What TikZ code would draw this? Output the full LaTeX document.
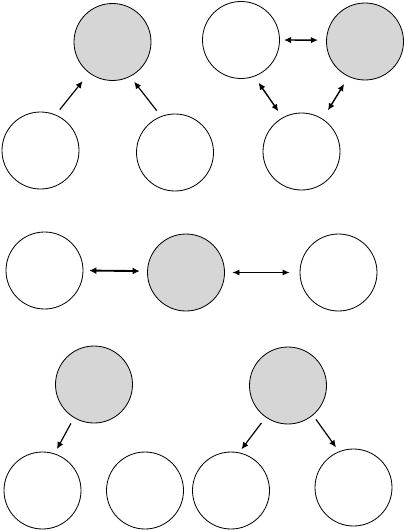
\documentclass[tikz,border=0pt]{standalone}
\usepackage{xcolor}
\definecolor{hubgray}{RGB}{214,214,214}
\usetikzlibrary{arrows.meta, shapes.geometric, positioning}
\tikzset{
  vnode/.style={
    circle, draw=black, fill=white, line width=0.7pt,
    minimum size=2.31cm, inner sep=0pt},
  hnode/.style={vnode, fill=hubgray},
  arr/.style={-{Latex[length=6pt,width=5.5pt]}, line width=1pt},
  arrboth/.style={{Latex[length=6pt,width=5.5pt]}-{Latex[length=6pt,width=5.5pt]}, line width=1.2pt},
  arrbold/.style={{Latex[length=6pt,width=6pt]}-{Latex[length=6pt,width=6pt]}, line width=1.6pt},
  arrthin/.style={{Latex[length=6pt,width=5pt]}-{Latex[length=6pt,width=5pt]}, line width=0.7pt},
}

\begin{document}
\begin{tikzpicture}[x=0.03cm, y=-0.03cm]
  \useasboundingbox (0,0) rectangle (405,531);
  % converging pair
  \node[hnode] (ahub)   at (112.5,42)   {};
  \node[vnode] (aleft)  at (40.5,150.5) {};
  \node[vnode] (aright) at (175,152.5)  {};
  % triangle
  \node[vnode] (bleft)  at (241,40)     {};
  \node[hnode] (bhub)   at (365,41.5)   {};
  \node[vnode] (bbot)   at (301.5,151.5){};
  % chain
  \node[vnode] (cleft)  at (44.5,270.5) {};
  \node[hnode] (chub)   at (186,272.5)  {};
  \node[vnode] (cright) at (338.5,272.5){};
  % single fork
  \node[hnode] (dhub)   at (94,384.5)   {};
  \node[vnode] (dleft)  at (42.5,490.5) {};
  \node[vnode] (dmid)   at (145,490.5)  {};
  % double fork
  \node[hnode] (ehub)   at (288,385.5)  {};
  \node[vnode] (eleft)  at (231,490.5)  {};
  \node[vnode] (eright) at (353.5,487.5){};

  \draw[arr, shorten <=5.6pt, shorten >=8.8pt] (aleft.67) -- (ahub.-127);
  \draw[arr, shorten <=6pt, shorten >=5.5pt] (aright.111) -- (ahub.-63);
  \draw[arrboth, shorten <=3.5pt, shorten >=7pt] (bleft.east) -- (bhub.178);
  \draw[arrboth, shorten <=6.4pt, shorten >=6.4pt] (bleft.-70) -- (bbot.119);
  \draw[arrboth, shorten <=7.2pt, shorten >=8.5pt] (bhub.-115) -- (bbot.57);
  \draw[arrbold, shorten <=5pt, shorten >=6.4pt] (cleft.east) -- (chub.178);
  \draw[arrthin, shorten <=6.4pt, shorten >=8.5pt] (chub.east) -- (cright.west);
  \draw[arr, shorten <=5.4pt, shorten >=4.3pt] (dhub.-121) -- (dleft.72);
  \draw[arr, shorten <=6pt, shorten >=3.4pt] (ehub.-125) -- (eleft.78);
  \draw[arr, shorten <=4.3pt, shorten >=4.3pt] (ehub.-50) -- (eright.112);
\end{tikzpicture}
\end{document}
